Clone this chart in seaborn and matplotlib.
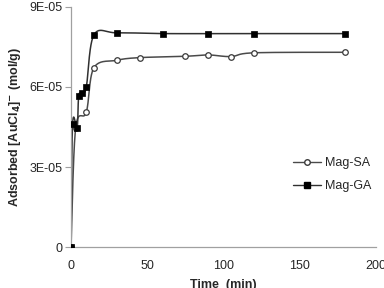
import numpy as np
import pandas as pd
import seaborn as sns
import matplotlib
matplotlib.use("Agg")
import matplotlib.pyplot as plt
from matplotlib.lines import Line2D
from matplotlib.ticker import FixedLocator, FuncFormatter

# ---- data ----
time_sa = [0, 3, 10, 15, 30, 45, 75, 90, 105, 120, 180]
ads_sa = [0, 4.45e-5, 5.05e-5, 6.72e-5, 7.0e-5, 7.1e-5, 7.15e-5, 7.2e-5, 7.14e-5, 7.28e-5, 7.3e-5]
time_ga = [0, 1, 4, 5, 7, 10, 15, 30, 60, 90, 120, 180]
ads_ga = [0, 4.6e-5, 4.48e-5, 5.66e-5, 5.77e-5, 6.0e-5, 7.95e-5, 8.03e-5, 8.0e-5, 8.0e-5, 8.0e-5, 8.0e-5]
series_names = ["Mag-SA", "Mag-GA"]
yticks = [0, 3e-5, 6e-5, 9e-5]
ytick_labels = ["0", "3E-05", "6E-05", "9E-05"]
xticks = [0, 50, 100, 150, 200]

sns.set_style("white")
plt.rcParams["font.family"] = ["Liberation Sans", "DejaVu Sans"]


def smooth(xs, ys, sx=305 / 200, sy=240 / 9e-5, n=25):
    """Excel-like smoothed line (Catmull-Rom Bezier in screen space)."""
    P = np.column_stack([np.asarray(xs, float) * sx, np.asarray(ys, float) * sy])
    out = []
    m = len(P)
    for i in range(m - 1):
        p0 = P[i - 1] if i > 0 else P[i]
        p1, p2 = P[i], P[i + 1]
        p3 = P[i + 2] if i + 2 < m else P[i + 1]
        c1 = p1 + (p2 - p0) / 6
        c2 = p2 - (p3 - p1) / 6
        t = np.linspace(0, 1, n, endpoint=(i == m - 2))[:, None]
        seg = (1 - t) ** 3 * p1 + 3 * (1 - t) ** 2 * t * c1 + 3 * (1 - t) * t ** 2 * c2 + t ** 3 * p2
        out.append(seg)
    Q = np.vstack(out)
    return Q[:, 0] / sx, Q[:, 1] / sy


fig = plt.figure(figsize=(3.84, 2.88), dpi=100)
ax = fig.add_axes([0.185, 0.142, 0.794, 0.834])

sx_sa, sy_sa = smooth(time_sa, ads_sa)
sx_ga, sy_ga = smooth(time_ga, ads_ga)
sns.lineplot(x=sx_sa, y=sy_sa, sort=False, estimator=None, color="#4a4a4a", lw=1.1, ax=ax)
sns.lineplot(x=sx_ga, y=sy_ga, sort=False, estimator=None, color="#303030", lw=1.1, ax=ax)
sns.scatterplot(x=time_sa, y=ads_sa, marker="o", s=16, facecolor="white",
                edgecolor="#3a3a3a", linewidth=0.9, ax=ax, zorder=3)
sns.scatterplot(x=time_ga, y=ads_ga, marker="s", s=22, color="black",
                edgecolor="black", linewidth=0.5, ax=ax, zorder=4)

ax.set_xlim(0, 200)
ax.set_ylim(0, 9e-5)
ax.yaxis.set_major_locator(FixedLocator(yticks))
ax.yaxis.set_major_formatter(FuncFormatter(lambda v, p: ytick_labels[yticks.index(v)] if v in yticks else ""))
ax.xaxis.set_major_locator(FixedLocator(xticks))

for side in ["top", "right"]:
    ax.spines[side].set_visible(False)
for side in ["left", "bottom"]:
    ax.spines[side].set_color("#a0a0a0")
    ax.spines[side].set_linewidth(0.9)
ax.tick_params(axis="y", direction="out", length=4, width=0.8, color="#a0a0a0",
               labelsize=9, pad=2, left=True)
ax.tick_params(axis="x", length=0, labelsize=9, pad=9)

ax.set_xlabel("Time  (min)", fontsize=9, fontweight="bold", labelpad=5)
ax.set_ylabel(r"Adsorbed [AuCl$_\mathbf{4}$]$^\mathbf{-}$ (mol/g)", fontsize=9,
              fontweight="bold", labelpad=5)

handles = [
    Line2D([], [], color="#4a4a4a", lw=1.0, marker="o", markersize=4,
           markerfacecolor="white", markeredgecolor="#3a3a3a"),
    Line2D([], [], color="#303030", lw=1.0, marker="s", markersize=4.5,
           markerfacecolor="black", markeredgecolor="black"),
]
ax.legend(handles, series_names, loc="center left", bbox_to_anchor=(0.711, 0.302),
          frameon=False, fontsize=9, handlelength=2.25, handletextpad=0.3,
          labelspacing=0.85, borderaxespad=0)

fig.savefig("out.png", dpi=100)
